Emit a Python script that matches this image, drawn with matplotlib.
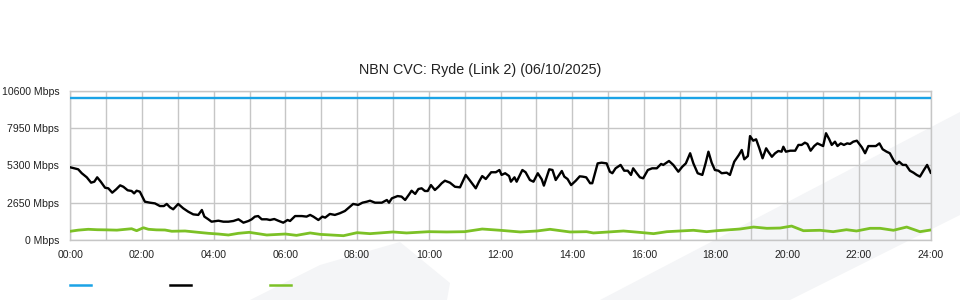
import matplotlib
matplotlib.use("Agg")
import matplotlib.pyplot as plt
from matplotlib.lines import Line2D
from matplotlib.patches import Polygon

plt.rcParams['font.family'] = ['Liberation Sans', 'DejaVu Sans']

title = "NBN CVC: Ryde (Link 2) (06/10/2025)"
y_ticks = [0, 2650, 5300, 7950, 10600]
y_tick_labels = ["0 Mbps", "2650 Mbps", "5300 Mbps", "7950 Mbps", "10600 Mbps"]
x_ticks = [0, 2, 4, 6, 8, 10, 12, 14, 16, 18, 20, 22, 24]
x_tick_labels = ["00:00", "02:00", "04:00", "06:00", "08:00", "10:00", "12:00",
                 "14:00", "16:00", "18:00", "20:00", "22:00", "24:00"]

capacity_hours = [0, 24]
capacity_mbps = [10050, 10050]

traffic_hours = [0.00, 0.22, 0.32, 0.46, 0.58, 0.67, 0.75, 0.85, 0.97, 1.06, 1.17, 1.28,
                 1.39, 1.48, 1.60, 1.71, 1.78, 1.85, 1.94, 2.08, 2.22, 2.36, 2.50, 2.61,
                 2.69, 2.78, 2.87, 3.01, 3.15, 3.29, 3.43, 3.57, 3.67, 3.74, 3.85, 3.94,
                 4.13, 4.27, 4.41, 4.55, 4.69, 4.83, 4.97, 5.06, 5.15, 5.24, 5.34, 5.48,
                 5.57, 5.69, 5.80, 5.94, 6.06, 6.13, 6.27, 6.46, 6.59, 6.69, 6.78, 6.92,
                 7.03, 7.11, 7.24, 7.38, 7.52, 7.66, 7.80, 7.89, 8.03, 8.15, 8.27, 8.36,
                 8.50, 8.69, 8.83, 8.89, 8.97, 9.13, 9.24, 9.34, 9.46, 9.52, 9.62, 9.71,
                 9.80, 9.89, 9.97, 10.06, 10.17, 10.27, 10.36, 10.45, 10.59, 10.73, 10.87,
                 11.03, 11.17, 11.31, 11.40, 11.49, 11.59, 11.74, 11.87, 11.97, 12.03,
                 12.13, 12.24, 12.29, 12.39, 12.45, 12.61, 12.70, 12.82, 12.92, 13.04,
                 13.15, 13.21, 13.36, 13.45, 13.54, 13.71, 13.78, 13.87, 13.97, 14.10,
                 14.21, 14.29, 14.39, 14.50, 14.56, 14.71, 14.82, 14.96, 15.05, 15.12,
                 15.21, 15.35, 15.45, 15.55, 15.64, 15.70, 15.80, 15.89, 15.98, 16.11,
                 16.23, 16.36, 16.48, 16.54, 16.70, 16.82, 16.96, 17.07, 17.17, 17.29,
                 17.38, 17.50, 17.63, 17.72, 17.80, 17.89, 17.98, 18.08, 18.17, 18.31,
                 18.40, 18.52, 18.65, 18.73, 18.80, 18.90, 18.96, 19.05, 19.13, 19.22,
                 19.31, 19.41, 19.47, 19.57, 19.66, 19.75, 19.84, 19.89, 19.96, 20.08,
                 20.22, 20.31, 20.40, 20.49, 20.56, 20.65, 20.75, 20.84, 20.93, 21.00,
                 21.08, 21.17, 21.24, 21.33, 21.40, 21.49, 21.58, 21.67, 21.75, 21.84,
                 21.94, 22.01, 22.08, 22.17, 22.26, 22.35, 22.47, 22.57, 22.66, 22.77,
                 22.86, 22.96, 23.05, 23.12, 23.22, 23.31, 23.42, 23.52, 23.61, 23.70,
                 23.81, 23.90, 24.00]
traffic_mbps = [5160, 5020, 4740, 4450, 4070, 4140, 4450, 4140, 3710, 3670, 3360, 3600,
                3880, 3780, 3530, 3480, 3310, 3500, 3430, 2720, 2650, 2600, 2410, 2410,
                2560, 2320, 2180, 2560, 2250, 2010, 1820, 1780, 2130, 1660, 1470, 1300,
                1370, 1300, 1300, 1350, 1470, 1230, 1350, 1470, 1660, 1700, 1470, 1470,
                1420, 1490, 1370, 1230, 1420, 1350, 1700, 1700, 1660, 1780, 1660, 1420,
                1660, 1590, 1850, 1780, 1900, 2060, 2370, 2560, 2490, 2650, 2720, 2790,
                2650, 2650, 2840, 2650, 2960, 3120, 3080, 2840, 3270, 3500, 3270, 3620,
                3670, 3480, 3480, 3900, 3550, 3780, 4030, 4210, 4070, 3780, 3740,
                4620, 4140, 3670, 4140, 4540, 4330, 4810, 4810, 4970, 4620,
                4740, 4540, 4140, 4450, 4140, 4970, 4810, 4260, 4140, 4740,
                4310, 3860, 5020, 4970, 4260, 4900, 4500, 4330, 3900, 4210,
                4520, 4500, 4450, 4030, 4030, 5440, 5490, 5440, 4850, 4740,
                5090, 5330, 4920, 4920, 4620, 5090, 4740, 4450, 4380, 4970,
                5090, 5090, 5400, 5330, 5610, 5330, 4850, 5200, 5440, 6160,
                5440, 4740, 4620, 5440, 6270, 5490, 4970, 4920, 4740, 4780,
                4620, 5560, 6040, 6390, 5730, 5960, 7380, 7050, 7150, 6510,
                5800, 6510, 6270, 5910, 6160, 6320, 6270, 6620, 6270, 6340,
                6340, 6750, 6750, 6910, 6820, 6340, 6670, 6860, 6750, 6670,
                7580, 7150, 6750, 6980, 6670, 6860, 6750, 6860, 6820, 6980,
                7050, 6820, 6580, 6160, 6670, 6670, 6670, 6860, 6440, 6270,
                6160, 5680, 5400, 5560, 5330, 5330, 4920, 4780, 4620, 4500,
                4970, 5330, 4780]

upload_hours = [0.00, 0.22, 0.50, 0.75, 1.00, 1.30, 1.71, 1.85, 2.04, 2.18, 2.40, 2.64,
                2.83, 3.20, 3.57, 3.85, 4.13, 4.41, 4.69, 4.99, 5.48, 6.00, 6.31, 6.69,
                6.97, 7.62, 8.00, 8.36, 9.00, 9.38, 10.00, 10.50, 11.00, 11.49, 11.99,
                12.55, 13.02, 13.38, 13.94, 14.40, 14.59, 15.01, 15.43, 15.89, 16.27,
                16.64, 17.01, 17.38, 17.75, 18.03, 18.68, 19.06, 19.43, 19.80, 20.12,
                20.45, 20.91, 21.28, 21.65, 21.93, 22.31, 22.59, 22.96, 23.33, 23.70,
                24.00]
upload_mbps = [620, 700, 760, 730, 720, 700, 800, 660, 870, 760, 720, 710,
               620, 640, 545, 475, 425, 355, 475, 545, 355, 425, 330, 500,
               400, 305, 520, 450, 570, 500, 590, 570, 590, 780, 690,
               570, 640, 760, 570, 590, 500, 570, 640, 540, 450,
               590, 640, 690, 590, 660, 780, 920, 830, 850, 990,
               660, 690, 590, 730, 640, 830, 830, 690, 920, 590,
               710]

BLUE = "#1ba3e6"
BLACK = "#000000"
GREEN = "#7cc126"
GRID = "#c6c6c6"

fig = plt.figure(figsize=(9.6, 3.0), dpi=100)

# faint background watermark shapes (behind everything)
band = Polygon([(600 / 960, 0.0), (960 / 960, 1 - 112 / 300), (960 / 960, 1 - 215 / 300),
                (790 / 960, 0.0)], closed=True, transform=fig.transFigure,
               facecolor="#f4f5f7", edgecolor="none", zorder=-10)
blob = Polygon([(250 / 960, 0.0), (320 / 960, 1 - 265 / 300), (400 / 960, 1 - 242 / 300),
                (450 / 960, 1 - 283 / 300), (447 / 960, 0.0)], closed=True,
               transform=fig.transFigure, facecolor="#f4f5f7", edgecolor="none", zorder=-10)
fig.patches.extend([band, blob])

ax = fig.add_axes([70.3 / 960, 0.2, (930.7 - 70.3) / 960, (240 - 90.7) / 300])
ax.patch.set_alpha(0)
ax.set_zorder(1)

ax.plot(capacity_hours, capacity_mbps, color=BLUE, lw=1.7, zorder=3)
ax.plot(traffic_hours, traffic_mbps, color=BLACK, lw=1.7, zorder=4)
ax.plot(upload_hours, upload_mbps, color=GREEN, lw=2.0, zorder=3)

ax.set_xlim(0, 24)
ax.set_ylim(0, 10600)
ax.set_xticks(x_ticks)
ax.set_xticklabels(x_tick_labels)
ax.set_xticks(range(0, 25), minor=True)
ax.set_yticks(y_ticks)
ax.set_yticklabels(y_tick_labels)
ax.grid(True, which="both", axis="x", color=GRID, lw=1.0)
ax.grid(True, which="major", axis="y", color=GRID, lw=1.0)
ax.set_axisbelow(True)
for s in ax.spines.values():
    s.set_color(GRID)
    s.set_linewidth(1.0)
ax.tick_params(axis="both", which="both", length=0, labelsize=7.6, colors="#222222")
ax.tick_params(axis="y", pad=8)
ax.tick_params(axis="x", pad=7)

fig.text(0.5, 1 - 70 / 300, title, ha="center", va="center", fontsize=10.3, color="#222222")

# legend swatches (no labels)
for x0, col in [(70, BLUE), (170, BLACK), (270, GREEN)]:
    fig.add_artist(Line2D([x0 / 960, (x0 + 21) / 960], [1 - 285 / 300, 1 - 285 / 300],
                          color=col, lw=1.8, transform=fig.transFigure))

fig.savefig("out.png", dpi=100)
